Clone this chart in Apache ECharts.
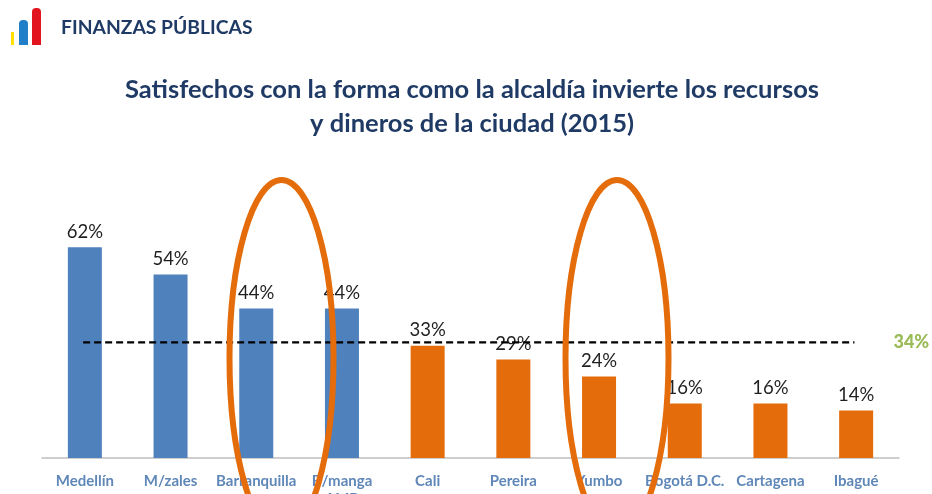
<!DOCTYPE html>
<html>
<head>
<meta charset="utf-8">
<style>html,body{margin:0;padding:0;background:#fff}#chart{width:932px;height:494px}</style>
<script src="https://cdn.jsdelivr.net/npm/echarts@6/dist/echarts.min.js"></script>
</head>
<body>
<div id="chart"></div>
<script>
// Satisfaction with municipal spending, by city, 2015 (percent)
const cities = ['Medellín', 'M/zales', 'Barranquilla', 'B/manga\nAMB', 'Cali', 'Pereira', 'Yumbo', 'Bogotá D.C.', 'Cartagena', 'Ibagué'];
const satisfied = [62, 54, 44, 44, 33, 29, 24, 16, 16, 14];
const aboveAverage = [true, true, true, true, false, false, false, false, false, false];
const averageValue = 34;
const averageSpan = [0.48, 9.48];

const BLUE = '#4F81BD';
const ORANGE = '#E46C0A';
const NAVY = '#1F3A64';
const FONT = 'Lato, "Open Sans", sans-serif';

const chart = echarts.init(document.getElementById('chart'), null, { renderer: 'canvas' });

chart.setOption({
  animation: false,
  backgroundColor: '#fff',
  grid: { left: 42, right: 33, top: 220, bottom: 36, outerBoundsMode: 'none' },
  xAxis: [
    {
      type: 'category',
      data: cities,
      axisTick: { show: false },
      axisLine: { lineStyle: { color: '#BFBFBF', width: 1.5 } },
      axisLabel: {
        color: '#5F87B8',
        fontFamily: FONT,
        fontWeight: 'bold',
        fontSize: 15,
        margin: 14,
        lineHeight: 18,
        interval: 0,
        verticalAlign: 'top'
      }
    },
    { type: 'value', min: 0, max: 10, show: false }
  ],
  yAxis: { type: 'value', min: 0, max: 70, show: false },
  series: [
    {
      type: 'bar',
      xAxisIndex: 0,
      barWidth: 34,
      z: 2,
      data: satisfied.map((v, i) => ({ value: v, itemStyle: { color: aboveAverage[i] ? BLUE : ORANGE } })),
      label: {
        show: true,
        position: 'top',
        distance: 6,
        formatter: '{c}%',
        color: '#1f1f1f',
        fontFamily: FONT,
        fontSize: 18.5
      }
    },
    {
      type: 'line',
      xAxisIndex: 1,
      z: 4,
      symbol: 'none',
      silent: true,
      lineStyle: { color: '#000', width: 2.2, type: [7, 4] },
      data: [
        [averageSpan[0], averageValue],
        [averageSpan[1], averageValue]
      ],
      endLabel: {
        show: true,
        formatter: () => averageValue + '%',
        color: '#9BBB59',
        fontFamily: FONT,
        fontWeight: 900,
        fontSize: 18,
        distance: 39
      }
    }
  ],
  graphic: [
    { type: 'text', z: 10, style: { x: 61, y: 28, text: 'FINANZAS PÚBLICAS', fill: NAVY, font: 'bold 19.3px ' + FONT, textVerticalAlign: 'middle' } },
    { type: 'text', z: 10, style: { x: 472, y: 90, text: 'Satisfechos con la forma como la alcaldía invierte los recursos', fill: NAVY, font: 'bold 25.5px ' + FONT, textAlign: 'center', textVerticalAlign: 'middle' } },
    { type: 'text', z: 10, style: { x: 472, y: 124, text: 'y dineros de la ciudad (2015)', fill: NAVY, font: 'bold 25.5px ' + FONT, textAlign: 'center', textVerticalAlign: 'middle' } },
    // Logo: three rising bars
    { type: 'rect', z: 10, shape: { x: 11, y: 32, width: 3, height: 13 }, style: { fill: '#FFE000' } },
    { type: 'rect', z: 10, shape: { x: 19, y: 20, width: 9, height: 25, r: [4, 4, 0, 0] }, style: { fill: '#1F7FC8' } },
    { type: 'rect', z: 10, shape: { x: 32, y: 8, width: 9, height: 37, r: [4, 4, 0, 0] }, style: { fill: '#E2151F' } },
    // Highlight rings around Barranquilla/B-manga and Yumbo
    { type: 'ellipse', z: 20, shape: { cx: 281.5, cy: 358, rx: 52, ry: 178 }, style: { fill: 'none', stroke: ORANGE, lineWidth: 6 } },
    { type: 'ellipse', z: 20, shape: { cx: 617, cy: 358, rx: 51.5, ry: 178 }, style: { fill: 'none', stroke: ORANGE, lineWidth: 6 } }
  ]
});
</script>
</body>
</html>
